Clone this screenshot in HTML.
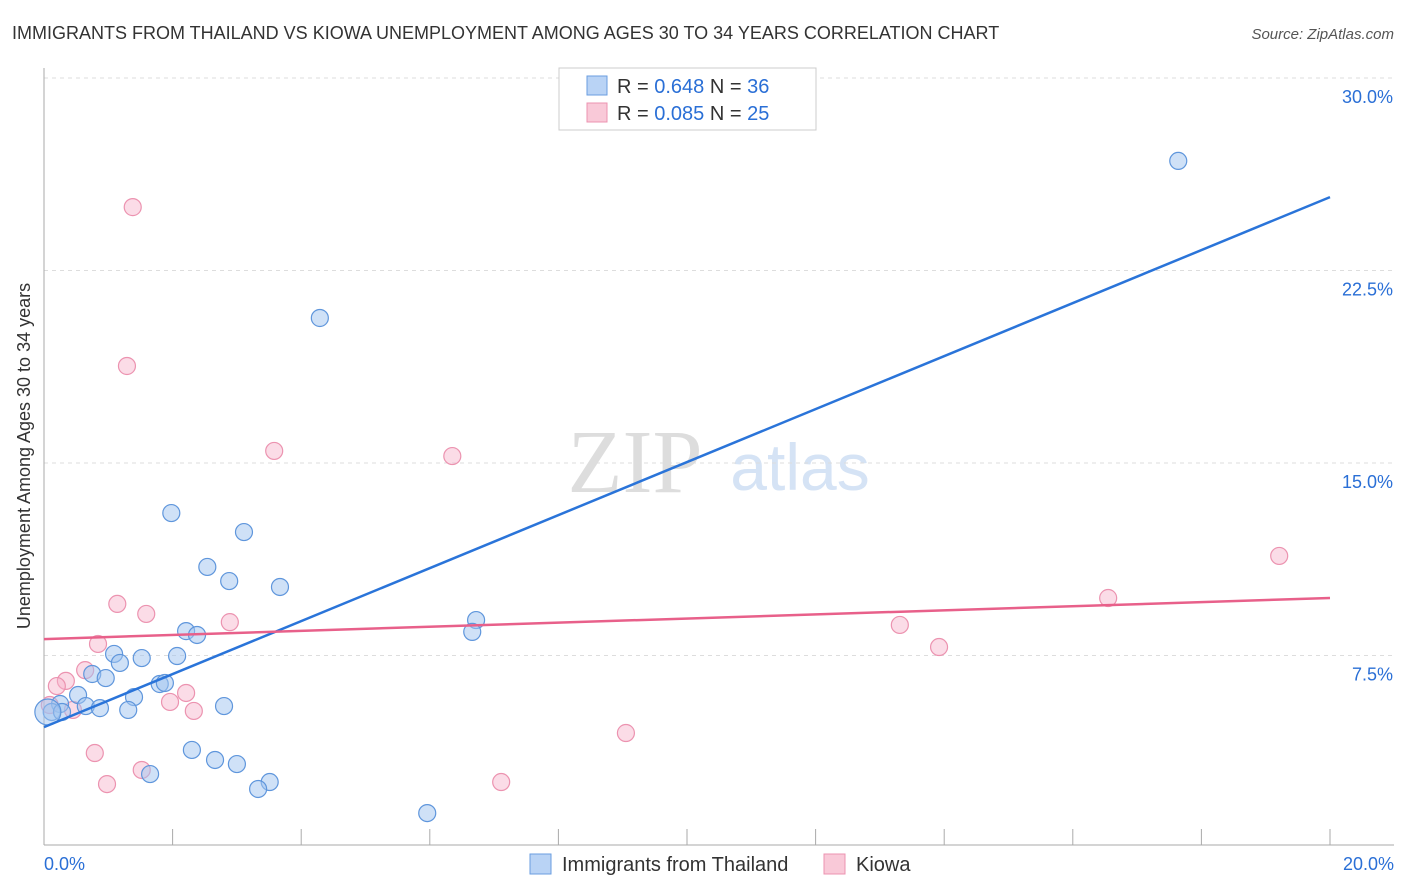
<!DOCTYPE html>
<html><head><meta charset="utf-8"><style>
body{margin:0;background:#fff;font-family:"Liberation Sans",sans-serif}
svg{display:block}
</style></head><body>
<svg width="1406" height="892" id="chart">
<text x="12" y="39" font-size="18" fill="#333">IMMIGRANTS FROM THAILAND VS KIOWA UNEMPLOYMENT AMONG AGES 30 TO 34 YEARS CORRELATION CHART</text>
<text x="1394" y="39" font-size="15" fill="#555" font-style="italic" text-anchor="end">Source: ZipAtlas.com</text>
<text x="30" y="456" font-size="18" fill="#333" text-anchor="middle" transform="rotate(-90 30 456)">Unemployment Among Ages 30 to 34 years</text>
<text x="635" y="492" font-size="90" fill="#ddd" font-family="Liberation Serif,serif" text-anchor="middle">ZIP</text>
<text x="800" y="490" font-size="66" fill="#d5e3f5" text-anchor="middle">atlas</text>
<g id="grid"></g><g id="pts"></g><g id="lines"></g>
<g>
<rect x="559" y="68" width="257" height="62" fill="#fff" stroke="#ccc"/>
<rect x="587" y="76" width="20" height="19" fill="#b9d3f5" stroke="#6a9ee0"/>
<rect x="587" y="103" width="20" height="19" fill="#f9c9d8" stroke="#ec93b0"/>
<text x="617" y="93" font-size="20" fill="#333">R = <tspan fill="#2a6fd6">0.648</tspan>   N = <tspan fill="#2a6fd6">36</tspan></text>
<text x="617" y="120" font-size="20" fill="#333">R = <tspan fill="#2a6fd6">0.085</tspan>   N = <tspan fill="#2a6fd6">25</tspan></text>
</g>
<g>
<rect x="530" y="854" width="21" height="20" fill="#b9d3f5" stroke="#6a9ee0"/>
<text x="562" y="871" font-size="20" fill="#333">Immigrants from Thailand</text>
<rect x="824" y="854" width="21" height="20" fill="#f9c9d8" stroke="#ec93b0"/>
<text x="856" y="871" font-size="20" fill="#333">Kiowa</text>
</g>
</svg>
<script>
const blueX=[17.64,4.29,1.98,3.11,2.54,2.88,3.67,6.72,6.66,2.21,2.38,1.09,1.52,2.07,1.18,0.75,0.96,0.53,1.40,1.80,1.88,0.25,0.65,0.12,0.28,0.87,1.31,2.80,2.30,2.66,3.00,1.65,3.51,3.33,5.96,0.06];
const blueY=[26.77,20.65,13.05,12.31,10.95,10.40,10.17,8.88,8.42,8.45,8.30,7.56,7.40,7.48,7.21,6.78,6.62,5.96,5.88,6.39,6.43,5.61,5.53,5.30,5.30,5.45,5.38,5.53,3.82,3.43,3.27,2.88,2.57,2.30,1.36,5.30];
const pinkX=[1.38,1.29,3.58,6.35,19.21,16.55,1.14,1.59,2.89,13.31,13.92,0.84,0.64,0.34,0.20,2.21,1.96,2.33,0.45,9.05,0.79,1.52,7.11,0.98,0.09];
const pinkY=[24.97,18.78,15.47,15.27,11.38,9.74,9.51,9.12,8.80,8.69,7.83,7.95,6.93,6.51,6.31,6.04,5.69,5.34,5.38,4.48,3.70,3.04,2.57,2.49,5.57];
const blueTrend=[4.71,25.36];
const pinkTrend=[8.14,9.74];
const yTicks=[7.5,15,22.5,30];
const yTickLabels=["7.5%","15.0%","22.5%","30.0%"];
const xTicks=[0,2,4,6,8,10,12,14,16,18,20];
const NS="http://www.w3.org/2000/svg";
const X=v=>44+v/20*1286;
const Y=v=>848-v/7.5*192.5;
function mk(t,a,p){const e=document.createElementNS(NS,t);for(const k in a)e.setAttribute(k,a[k]);p.appendChild(e);return e;}
const grid=document.getElementById('grid');
yTicks.forEach((v,i)=>{
 const l=mk('line',{x1:44,x2:1394,y1:Y(v),y2:Y(v),stroke:'#ddd','stroke-dasharray':'4,4'},grid);
 
 
 const t=mk('text',{x:1393,y:Y(v)+25,'font-size':18,fill:'#2a6fd6','text-anchor':'end'},grid);
 t.textContent=yTickLabels[i];
 
 
});
const ax=mk('line',{x1:44,x2:44,y1:68,y2:845,stroke:'#aaa'},grid);


const bx=mk('line',{x1:44,x2:1394,y1:845,y2:845,stroke:'#aaa'},grid);


xTicks.forEach(v=>{
 const l=mk('line',{x1:X(v),x2:X(v),y1:829,y2:845,stroke:'#aaa'},grid);
 
 
});
[[0,'0.0%','start',44],[20,'20.0%','end',1394]].forEach(d=>{
 const t=mk('text',{x:d[3],y:870,'font-size':18,fill:'#2a6fd6','text-anchor':d[2]},grid);
 t.textContent=d[1];
 
 
});
const pts=document.getElementById('pts');
pinkX.forEach((v,i)=>{
 const c=mk('circle',{cx:X(v),cy:Y(pinkY[i]),r:8.5,fill:'rgba(246,178,201,0.45)',stroke:'#ec93b0','stroke-width':1.2},pts);
 
 
});
blueX.forEach((v,i)=>{
 const c=mk('circle',{cx:X(v),cy:Y(blueY[i]),r:i==35?13:8.5,fill:'rgba(160,195,240,0.5)',stroke:'#5f96dc','stroke-width':1.2},pts);
 
 
});
const lines=document.getElementById('lines');
const bl=mk('line',{x1:X(0),x2:X(20),y1:Y(blueTrend[0]),y2:Y(blueTrend[1]),stroke:'#2a74d9','stroke-width':2.5},lines);


const pl=mk('line',{x1:X(0),x2:X(20),y1:Y(pinkTrend[0]),y2:Y(pinkTrend[1]),stroke:'#e8608a','stroke-width':2.5},lines);


</script>
</body></html>
